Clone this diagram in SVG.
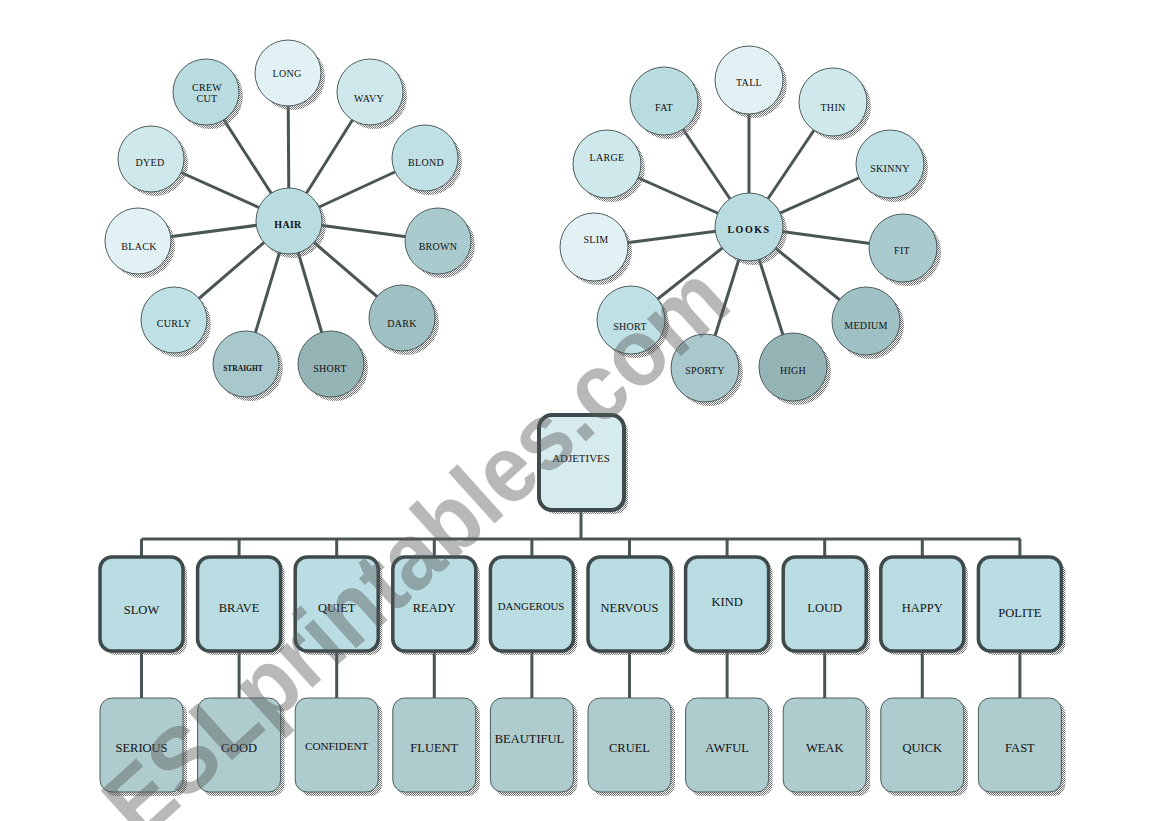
<svg xmlns="http://www.w3.org/2000/svg" width="1169" height="821" viewBox="0 0 1169 821">
<defs>
<pattern id="dither" width="2" height="2" patternUnits="userSpaceOnUse"><rect width="1" height="1" fill="#707070"/><rect x="1" y="1" width="1" height="1" fill="#707070"/></pattern>
<style>
.sh{fill:url(#dither)}
.c{stroke:#4d5d5e;stroke-width:1}
.t{font-family:"Liberation Serif","Times New Roman",serif;font-size:10px;fill:#111;text-anchor:middle;letter-spacing:0.3px}
.tb{font-weight:bold}
.bx{font-family:"Liberation Serif","Times New Roman",serif;font-size:12.5px;fill:#111;text-anchor:middle}
.top{fill:#b9dde2;stroke:#3e4a4b;stroke-width:3.5}
.bot{fill:#aecbce;stroke:#4d5d5e;stroke-width:1}
.ln{stroke:#4a5556;stroke-width:3;fill:none}
.l1{fill:#e2f2f4}.l2{fill:#cfe8eb}.l3{fill:#bfe0e4}.l4{fill:#a9cbce}.l5{fill:#a0c1c4}.l6{fill:#95b4b6}.l7{fill:#a8c8cb}.l8{fill:#b8dce0}
</style>
</defs>
<rect width="1169" height="821" fill="#fff"/>
<g id="connectors" class="ln">
<line x1="289" y1="221" x2="288" y2="73"/>
<line x1="289" y1="221" x2="206" y2="92"/>
<line x1="289" y1="221" x2="370" y2="92"/>
<line x1="289" y1="221" x2="151" y2="159"/>
<line x1="289" y1="221" x2="425" y2="158"/>
<line x1="289" y1="221" x2="138" y2="241"/>
<line x1="289" y1="221" x2="438" y2="241"/>
<line x1="289" y1="221" x2="174" y2="320"/>
<line x1="289" y1="221" x2="402" y2="318"/>
<line x1="289" y1="221" x2="246" y2="364"/>
<line x1="289" y1="221" x2="331" y2="364"/>
<line x1="749" y1="227" x2="749" y2="80"/>
<line x1="749" y1="227" x2="664" y2="101"/>
<line x1="749" y1="227" x2="833" y2="102"/>
<line x1="749" y1="227" x2="607" y2="164"/>
<line x1="749" y1="227" x2="890" y2="164"/>
<line x1="749" y1="227" x2="594" y2="247"/>
<line x1="749" y1="227" x2="903" y2="248"/>
<line x1="749" y1="227" x2="631" y2="320"/>
<line x1="749" y1="227" x2="866" y2="321"/>
<line x1="749" y1="227" x2="705" y2="368"/>
<line x1="749" y1="227" x2="793" y2="367"/>
<path d="M581 510V539M141.5 539H1020.5"/>
<path d="M141.5 539V557M239.1 539V557M336.7 539V557M434.3 539V557M531.9 539V557M629.5 539V557M727.1 539V557M824.7 539V557M922.3 539V557M1019.9 539V557"/>
<path d="M141.5 651V698M239.1 651V698M336.7 651V698M434.3 651V698M531.9 651V698M629.5 651V698M727.1 651V698M824.7 651V698M922.3 651V698M1019.9 651V698"/>
</g>
<g id="hair-nodes">
<g id="hair"><circle class="sh" cx="293" cy="225" r="33"/><circle class="c l8" cx="289" cy="221" r="33"/><text class="t tb" x="288" y="228">HAIR</text></g>
<g id="long"><circle class="sh" cx="292" cy="77" r="33"/><circle class="c l1" cx="288" cy="73" r="33"/><text class="t" x="287" y="77">LONG</text></g>
<g id="crewcut"><circle class="sh" cx="210" cy="96" r="33"/><circle class="c l8" cx="206" cy="92" r="33"/><text class="t" x="207" y="90.5">CREW</text><text class="t" x="207" y="101.5">CUT</text></g>
<g id="wavy"><circle class="sh" cx="374" cy="96" r="33"/><circle class="c l2" cx="370" cy="92" r="33"/><text class="t" x="369" y="101.5">WAVY</text></g>
<g id="dyed"><circle class="sh" cx="155" cy="163" r="33"/><circle class="c l2" cx="151" cy="159" r="33"/><text class="t" x="150" y="165.5">DYED</text></g>
<g id="blond"><circle class="sh" cx="429" cy="162" r="33"/><circle class="c l3" cx="425" cy="158" r="33"/><text class="t" x="426" y="165.5">BLOND</text></g>
<g id="black"><circle class="sh" cx="142" cy="245" r="33"/><circle class="c l1" cx="138" cy="241" r="33"/><text class="t" x="139" y="249.5">BLACK</text></g>
<g id="brown"><circle class="sh" cx="442" cy="245" r="33"/><circle class="c l4" cx="438" cy="241" r="33"/><text class="t" x="438" y="249.5">BROWN</text></g>
<g id="curly"><circle class="sh" cx="178" cy="324" r="33"/><circle class="c l3" cx="174" cy="320" r="33"/><text class="t" x="174" y="327">CURLY</text></g>
<g id="dark"><circle class="sh" cx="406" cy="322" r="33"/><circle class="c l5" cx="402" cy="318" r="33"/><text class="t" x="402" y="326.5">DARK</text></g>
<g id="straight"><circle class="sh" cx="250" cy="368" r="33"/><circle class="c l7" cx="246" cy="364" r="33"/><text class="t tb" x="243" y="371" style="font-size:7.5px;letter-spacing:0">STRAIGHT</text></g>
<g id="short-hair"><circle class="sh" cx="335" cy="368" r="33"/><circle class="c l6" cx="331" cy="364" r="33"/><text class="t" x="330" y="372">SHORT</text></g>
</g>
<g id="looks-nodes">
<g id="looks"><circle class="sh" cx="753" cy="231" r="34"/><circle class="c l8" cx="749" cy="227" r="34"/><text class="t tb" x="749" y="233" style="letter-spacing:1.5px">LOOKS</text></g>
<g id="tall"><circle class="sh" cx="753" cy="84" r="34"/><circle class="c l1" cx="749" cy="80" r="34"/><text class="t" x="749" y="86">TALL</text></g>
<g id="fat"><circle class="sh" cx="668" cy="105" r="34"/><circle class="c l8" cx="664" cy="101" r="34"/><text class="t" x="664" y="110.5">FAT</text></g>
<g id="thin"><circle class="sh" cx="837" cy="106" r="34"/><circle class="c l2" cx="833" cy="102" r="34"/><text class="t" x="833" y="110.5">THIN</text></g>
<g id="large"><circle class="sh" cx="611" cy="168" r="34"/><circle class="c l2" cx="607" cy="164" r="34"/><text class="t" x="607" y="161">LARGE</text></g>
<g id="skinny"><circle class="sh" cx="894" cy="168" r="34"/><circle class="c l3" cx="890" cy="164" r="34"/><text class="t" x="890" y="172">SKINNY</text></g>
<g id="slim"><circle class="sh" cx="598" cy="251" r="34"/><circle class="c l1" cx="594" cy="247" r="34"/><text class="t" x="596" y="243">SLIM</text></g>
<g id="fit"><circle class="sh" cx="907" cy="252" r="34"/><circle class="c l4" cx="903" cy="248" r="34"/><text class="t" x="902" y="254">FIT</text></g>
<g id="short-looks"><circle class="sh" cx="635" cy="324" r="34"/><circle class="c l3" cx="631" cy="320" r="34"/><text class="t" x="630" y="330">SHORT</text></g>
<g id="medium"><circle class="sh" cx="870" cy="325" r="34"/><circle class="c l5" cx="866" cy="321" r="34"/><text class="t" x="866" y="329">MEDIUM</text></g>
<g id="sporty"><circle class="sh" cx="709" cy="372" r="34"/><circle class="c l7" cx="705" cy="368" r="34"/><text class="t" x="705" y="374">SPORTY</text></g>
<g id="high"><circle class="sh" cx="797" cy="371" r="34"/><circle class="c l6" cx="793" cy="367" r="34"/><text class="t" x="793" y="374">HIGH</text></g>
</g>
<g id="adjectives">
<g id="adjetives"><rect class="sh" x="543" y="419" width="85" height="95" rx="13"/><rect x="539" y="415" width="85" height="95" rx="13" fill="#d6ebee" stroke="#3e4a4b" stroke-width="4"/><text class="bx" x="581" y="461.5" style="font-size:10.9px">ADJETIVES</text></g>
<g id="slow"><rect class="sh" x="104" y="561" width="83" height="94" rx="12"/><rect class="top" x="100" y="557" width="83" height="94" rx="12"/><text class="bx" x="141.5" y="614">SLOW</text></g>
<g id="brave"><rect class="sh" x="201.6" y="561" width="83" height="94" rx="12"/><rect class="top" x="197.6" y="557" width="83" height="94" rx="12"/><text class="bx" x="239.1" y="612">BRAVE</text></g>
<g id="quiet"><rect class="sh" x="299.2" y="561" width="83" height="94" rx="12"/><rect class="top" x="295.2" y="557" width="83" height="94" rx="12"/><text class="bx" x="336.7" y="612">QUIET</text></g>
<g id="ready"><rect class="sh" x="396.8" y="561" width="83" height="94" rx="12"/><rect class="top" x="392.8" y="557" width="83" height="94" rx="12"/><text class="bx" x="434.3" y="612">READY</text></g>
<g id="dangerous"><rect class="sh" x="494.4" y="561" width="83" height="94" rx="12"/><rect class="top" x="490.4" y="557" width="83" height="94" rx="12"/><text class="bx" x="531" y="610" style="font-size:10.8px">DANGEROUS</text></g>
<g id="nervous"><rect class="sh" x="592" y="561" width="83" height="94" rx="12"/><rect class="top" x="588" y="557" width="83" height="94" rx="12"/><text class="bx" x="629.5" y="612">NERVOUS</text></g>
<g id="kind"><rect class="sh" x="689.6" y="561" width="83" height="94" rx="12"/><rect class="top" x="685.6" y="557" width="83" height="94" rx="12"/><text class="bx" x="727.1" y="606">KIND</text></g>
<g id="loud"><rect class="sh" x="787.2" y="561" width="83" height="94" rx="12"/><rect class="top" x="783.2" y="557" width="83" height="94" rx="12"/><text class="bx" x="824.7" y="612">LOUD</text></g>
<g id="happy"><rect class="sh" x="884.8" y="561" width="83" height="94" rx="12"/><rect class="top" x="880.8" y="557" width="83" height="94" rx="12"/><text class="bx" x="922.3" y="612">HAPPY</text></g>
<g id="polite"><rect class="sh" x="982.4" y="561" width="83" height="94" rx="12"/><rect class="top" x="978.4" y="557" width="83" height="94" rx="12"/><text class="bx" x="1019.9" y="616.5">POLITE</text></g>
<g id="serious"><rect class="sh" x="104" y="702" width="83" height="94" rx="12"/><rect class="bot" x="100" y="698" width="83" height="94" rx="12"/><text class="bx" x="141.5" y="751.5">SERIOUS</text></g>
<g id="good"><rect class="sh" x="201.6" y="702" width="83" height="94" rx="12"/><rect class="bot" x="197.6" y="698" width="83" height="94" rx="12"/><text class="bx" x="239.1" y="751.5">GOOD</text></g>
<g id="confident"><rect class="sh" x="299.2" y="702" width="83" height="94" rx="12"/><rect class="bot" x="295.2" y="698" width="83" height="94" rx="12"/><text class="bx" x="336.7" y="749.5" style="font-size:11.2px">CONFIDENT</text></g>
<g id="fluent"><rect class="sh" x="396.8" y="702" width="83" height="94" rx="12"/><rect class="bot" x="392.8" y="698" width="83" height="94" rx="12"/><text class="bx" x="434.3" y="751.5">FLUENT</text></g>
<g id="beautiful"><rect class="sh" x="494.4" y="702" width="83" height="94" rx="12"/><rect class="bot" x="490.4" y="698" width="83" height="94" rx="12"/><text class="bx" x="529.5" y="742.5">BEAUTIFUL</text></g>
<g id="cruel"><rect class="sh" x="592" y="702" width="83" height="94" rx="12"/><rect class="bot" x="588" y="698" width="83" height="94" rx="12"/><text class="bx" x="629.5" y="751.5">CRUEL</text></g>
<g id="awful"><rect class="sh" x="689.6" y="702" width="83" height="94" rx="12"/><rect class="bot" x="685.6" y="698" width="83" height="94" rx="12"/><text class="bx" x="727.1" y="751.5">AWFUL</text></g>
<g id="weak"><rect class="sh" x="787.2" y="702" width="83" height="94" rx="12"/><rect class="bot" x="783.2" y="698" width="83" height="94" rx="12"/><text class="bx" x="824.7" y="751.5">WEAK</text></g>
<g id="quick"><rect class="sh" x="884.8" y="702" width="83" height="94" rx="12"/><rect class="bot" x="880.8" y="698" width="83" height="94" rx="12"/><text class="bx" x="922.3" y="751.5">QUICK</text></g>
<g id="fast"><rect class="sh" x="982.4" y="702" width="83" height="94" rx="12"/><rect class="bot" x="978.4" y="698" width="83" height="94" rx="12"/><text class="bx" x="1019.9" y="751.5">FAST</text></g>
</g>
<text id="watermark" x="0" y="0" transform="translate(140,843) rotate(-42) scale(0.93,1)" font-family="Liberation Sans, Arial, sans-serif" font-weight="bold" font-size="95" fill="#555" fill-opacity="0.42">ESLprintables.com</text>
</svg>
